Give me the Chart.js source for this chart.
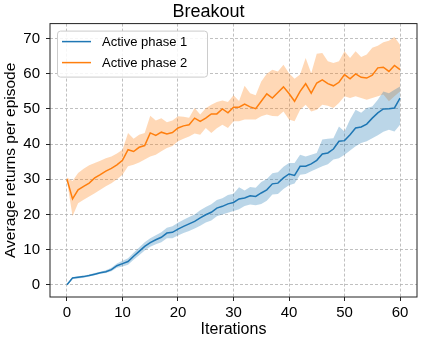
<!DOCTYPE html>
<html>
<head>
<meta charset="utf-8">
<script src="https://cdn.jsdelivr.net/npm/chart.js@4/dist/chart.umd.min.js"></script>
<style>
  html, body { margin: 0; padding: 0; background: #fff; }
  #wrap { width: 421px; height: 339px; position: relative; }
</style>
</head>
<body>
<div id="wrap"><canvas id="grafico"></canvas></div>
<script>
// iterations (x values)
const iteracoes = [0, 1, 2, 3, 4, 5, 6, 7, 8, 9, 10, 11, 12, 13, 14, 15, 16, 17, 18, 19, 20,
  21, 22, 23, 24, 25, 26, 27, 28, 29, 30, 31, 32, 33, 34, 35, 36, 37, 38, 39, 40,
  41, 42, 43, 44, 45, 46, 47, 48, 49, 50, 51, 52, 53, 54, 55, 56, 57, 58, 59, 60];

const ticksX = [0, 10, 20, 30, 40, 50, 60];
const ticksY = [0, 10, 20, 30, 40, 50, 60, 70];

// Active phase 1 (mean, upper, lower)
const fase1 = [0.0, 1.9, 2.1, 2.3, 2.6, 3.0, 3.4, 3.7, 4.3, 5.4, 6.0, 6.6, 8.1, 9.5, 10.9, 12.0, 12.8, 13.5, 14.7, 14.9, 15.8,
  16.6, 17.3, 18.0, 19.0, 19.9, 20.6, 21.8, 22.3, 23.0, 23.4, 24.4, 24.7, 25.3, 25.1, 26.1, 27.0, 28.7, 28.9, 30.4, 31.5,
  31.1, 33.7, 33.7, 34.4, 35.4, 37.2, 37.5, 38.6, 40.8, 41.0, 42.7, 44.6, 44.9, 45.7, 47.4, 48.9, 50.0, 50.1, 50.3, 53.1];
const fase1Sup = [0.2, 2.1, 2.4, 2.6, 2.9, 3.3, 3.7, 4.1, 4.8, 6.0, 6.8, 7.5, 9.1, 10.6, 12.1, 13.2, 14.1, 14.9, 16.2, 16.6, 17.6,
  18.5, 19.3, 20.0, 21.2, 22.1, 22.9, 24.1, 24.6, 25.5, 25.9, 27.7, 26.8, 27.8, 27.6, 29.2, 30.1, 31.7, 32.0, 33.6, 34.6,
  34.6, 37.0, 36.5, 37.0, 37.5, 41.3, 41.5, 41.7, 45.0, 43.6, 47.0, 49.8, 48.9, 50.3, 50.7, 52.6, 55.0, 54.5, 55.5, 56.4];
const fase1Inf = [-0.2, 1.7, 1.8, 2.0, 2.3, 2.7, 3.1, 3.3, 3.8, 4.8, 5.2, 5.7, 7.1, 8.4, 9.7, 10.8, 11.5, 12.1, 13.2, 13.2, 14.0,
  14.7, 15.3, 16.0, 16.8, 17.7, 18.3, 19.5, 20.0, 20.5, 21.0, 21.5, 22.4, 22.8, 22.6, 23.0, 23.9, 25.7, 25.8, 27.2, 28.3,
  28.8, 31.3, 31.5, 32.3, 33.0, 33.7, 34.3, 35.6, 36.0, 37.0, 38.2, 39.4, 40.3, 40.8, 41.7, 42.5, 43.5, 44.1, 43.6, 45.5];

// Active phase 2 (mean, upper, lower)
const fase2 = [30.0, 24.4, 27.0, 28.0, 28.9, 30.4, 31.3, 32.3, 33.1, 34.1, 35.4, 38.4, 37.9, 39.1, 39.6, 43.2, 42.5, 43.4, 42.9, 43.3, 44.6,
  45.2, 45.5, 47.4, 46.5, 47.4, 48.6, 48.6, 50.0, 48.9, 50.5, 50.5, 51.4, 50.6, 50.1, 52.2, 54.3, 53.1, 54.7, 56.3, 54.4,
  52.2, 55.0, 57.2, 54.5, 57.4, 58.3, 57.2, 56.6, 57.6, 59.8, 58.6, 60.0, 59.0, 58.8, 59.6, 61.7, 61.9, 60.7, 62.4, 61.2];
const fase2Sup = [30.5, 29.5, 31.8, 33.0, 34.0, 34.6, 35.3, 36.0, 36.5, 37.3, 38.4, 43.2, 41.5, 42.7, 43.2, 48.1, 46.7, 47.4, 46.2, 46.7, 47.9,
  47.8, 47.5, 50.3, 48.4, 50.2, 51.2, 52.0, 52.4, 52.0, 53.9, 52.3, 56.6, 54.5, 53.9, 57.8, 60.0, 61.2, 60.7, 62.6, 60.2,
  58.6, 59.8, 64.5, 60.2, 65.7, 65.9, 63.6, 63.1, 63.6, 66.4, 64.5, 66.4, 64.8, 65.5, 67.4, 68.0, 69.0, 69.4, 70.5, 68.3];
const fase2Inf = [29.5, 19.5, 23.2, 24.2, 25.1, 26.0, 27.0, 28.0, 28.9, 30.0, 31.3, 33.7, 34.1, 34.8, 35.6, 36.5, 37.0, 38.0, 38.9, 39.5, 40.8,
  41.5, 42.2, 43.0, 42.7, 44.6, 43.2, 44.5, 45.5, 44.6, 46.5, 46.5, 47.0, 47.0, 47.0, 47.9, 48.4, 48.0, 47.9, 49.3, 47.0,
  46.5, 49.8, 51.2, 49.3, 49.8, 51.2, 50.9, 50.3, 51.7, 53.6, 53.1, 53.6, 53.1, 52.6, 53.1, 53.6, 54.1, 52.2, 53.6, 55.0];

const AZUL = "#1f77b4";
const LARANJA = "#ff7f0e";
const FONTE = "'Liberation Sans', Arial, sans-serif";

const pontos = (valores) => valores.map((v, i) => ({ x: iteracoes[i], y: v }));

// moldura + legenda dentro do grafico
const molduraLegenda = {
  id: "molduraLegenda",
  afterDraw(chart) {
    const { ctx, chartArea: a } = chart;
    ctx.save();
    ctx.strokeStyle = "#222";
    ctx.lineWidth = 1;
    ctx.setLineDash([]);
    ctx.strokeRect(a.left, a.top, a.right - a.left, a.bottom - a.top);

    const itens = chart.data.datasets.filter((d) => d.naLegenda);
    const bx = a.left + 7, by = a.top + 7, bw = 150, bh = 46;
    ctx.fillStyle = "rgba(255,255,255,0.85)";
    ctx.strokeStyle = "#cccccc";
    ctx.beginPath();
    ctx.roundRect(bx + 0.5, by + 0.5, bw, bh, 3);
    ctx.fill();
    ctx.stroke();

    ctx.font = "13px " + FONTE;
    ctx.textBaseline = "middle";
    itens.forEach((d, i) => {
      const y = by + 11 + i * 21;
      ctx.strokeStyle = d.borderColor;
      ctx.lineWidth = 1.5;
      ctx.beginPath();
      ctx.moveTo(bx + 5, y);
      ctx.lineTo(bx + 34, y);
      ctx.stroke();
      ctx.fillStyle = "#000";
      ctx.fillText(d.label, bx + 45, y + 1);
    });
    ctx.restore();
  },
};

const linha = (label, valores, cor) => ({
  label: label,
  data: pontos(valores),
  borderColor: cor,
  borderWidth: 1.5,
  pointRadius: 0,
  tension: 0,
  fill: false,
  naLegenda: true,
});

const faixa = (valores, cor, preencher) => ({
  label: "",
  data: pontos(valores),
  borderWidth: 0,
  borderColor: "rgba(0,0,0,0)",
  backgroundColor: cor,
  pointRadius: 0,
  tension: 0,
  fill: preencher,
});

new Chart(document.getElementById("grafico"), {
  type: "line",
  data: {
    datasets: [
      linha("Active phase 1", fase1, AZUL),
      linha("Active phase 2", fase2, LARANJA),
      faixa(fase1Sup, "rgba(31,119,180,0.3)", false),
      faixa(fase1Inf, "rgba(31,119,180,0.3)", "-1"),
      faixa(fase2Sup, "rgba(255,127,14,0.3)", false),
      faixa(fase2Inf, "rgba(255,127,14,0.3)", "-1"),
    ],
  },
  options: {
    responsive: true,
    maintainAspectRatio: false,
    animation: false,
    layout: { padding: { left: 0, right: 4, top: 0, bottom: 0 } },
    plugins: {
      legend: { display: false },
      tooltip: { enabled: false },
      title: {
        display: true,
        text: "Breakout",
        color: "#000",
        font: { family: FONTE, size: 18, weight: "normal" },
        padding: { top: 1, bottom: 1 },
      },
    },
    scales: {
      x: {
        type: "linear",
        min: -3.06,
        max: 63.06,
        afterBuildTicks: (scale) => { scale.ticks = ticksX.map((v) => ({ value: v })); },
        afterFit: (scale) => { scale.height = 42; },
        ticks: { color: "#000", font: { family: FONTE, size: 15 }, padding: 3 },
        grid: { color: "#b0b0b0", lineWidth: 0.8, tickLength: 4, tickColor: "#222", tickWidth: 1, tickBorderDash: [] },
        border: { display: false, dash: [3, 2] },
        title: {
          display: true,
          text: "Iterations",
          color: "#000",
          font: { family: FONTE, size: 16 },
          padding: { top: 0, bottom: 0 },
        },
      },
      y: {
        min: -3.5,
        max: 74.3,
        afterBuildTicks: (scale) => { scale.ticks = ticksY.map((v) => ({ value: v })); },
        afterFit: (scale) => { scale.width = 50; },
        ticks: { color: "#000", font: { family: FONTE, size: 15 }, padding: 6 },
        grid: { color: "#b0b0b0", lineWidth: 0.8, tickLength: 4, tickColor: "#222", tickWidth: 1, tickBorderDash: [] },
        border: { display: false, dash: [3, 2] },
        title: {
          display: true,
          text: "Average returns per episode",
          color: "#000",
          font: { family: FONTE, size: 15.5 },
          padding: { top: 1, bottom: 0 },
        },
      },
    },
  },
  plugins: [molduraLegenda],
});
</script>
</body>
</html>
